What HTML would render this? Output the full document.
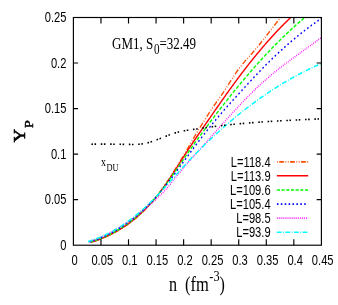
<!DOCTYPE html>
<html><head><meta charset="utf-8"><title>plot</title>
<style>
html,body{margin:0;padding:0;background:#fff;}
body{width:338px;height:305px;overflow:hidden;}
svg{display:block;will-change:transform;}
text{fill:#000;}
.h{font-family:"Liberation Sans",sans-serif;font-size:14.3px;}
.s{font-family:"Liberation Serif",serif;}
</style></head><body>
<svg width="338" height="305" viewBox="0 0 338 305">
<rect x="0" y="0" width="338" height="305" fill="#fff"/>
<defs><clipPath id="c"><rect x="73.4" y="17.5" width="247.99999999999997" height="227.7"/></clipPath></defs>

<g clip-path="url(#c)"><g transform="scale(0.78,1)" fill="none" stroke-width="1.6">
<path d="M117.18,242.27 L118.01,242.04 L118.83,241.81 L119.66,241.57 L120.48,241.34 L121.31,241.10 L122.13,240.86 L122.96,240.62 L123.79,240.37 L124.61,240.13 L125.44,239.88 L126.26,239.63 L127.09,239.38 L127.92,239.12 L128.74,238.86 L129.57,238.60 L130.39,238.34 L131.22,238.07 L132.04,237.80 L132.87,237.53 L133.70,237.26 L134.52,236.98 L135.35,236.70 L136.17,236.41 L137.00,236.12 L137.83,235.83 L138.65,235.54 L139.48,235.24 L140.30,234.93 L141.13,234.62 L141.95,234.31 L142.78,234.00 L143.61,233.68 L144.43,233.35 L145.26,233.03 L146.08,232.69 L146.91,232.36 L147.74,232.01 L148.56,231.67 L149.39,231.32 L150.21,230.96 L151.04,230.60 L151.86,230.23 L152.69,229.86 L153.52,229.49 L154.34,229.10 L155.17,228.72 L155.99,228.32 L156.82,227.93 L157.65,227.52 L158.47,227.11 L159.30,226.70 L160.12,226.28 L160.95,225.85 L161.77,225.42 L162.60,224.98 L163.43,224.53 L164.25,224.08 L165.08,223.62 L165.90,223.15 L166.73,222.68 L167.56,222.20 L168.38,221.72 L169.21,221.23 L170.03,220.73 L170.86,220.22 L171.68,219.71 L172.51,219.19 L173.34,218.66 L174.16,218.12 L174.99,217.58 L175.81,217.03 L176.64,216.47 L177.47,215.91 L178.29,215.33 L179.12,214.75 L179.94,214.16 L180.77,213.56 L181.59,212.96 L182.42,212.34 L183.25,211.72 L184.07,211.09 L184.90,210.45 L185.72,209.80 L186.55,209.15 L187.38,208.48 L188.20,207.81 L189.03,207.12 L189.85,206.43 L190.68,205.73 L191.50,205.02 L192.33,204.30 L193.16,203.57 L193.98,202.83 L194.81,202.08 L195.63,201.32 L196.46,200.55 L197.28,199.78 L198.11,198.99 L198.94,198.19 L199.76,197.38 L200.59,196.57 L201.41,195.74 L202.24,194.90 L203.07,194.06 L203.89,193.20 L204.72,192.34 L205.54,191.46 L206.37,190.58 L207.19,189.69 L208.02,188.79 L208.85,187.89 L209.67,186.97 L210.50,186.05 L211.32,185.12 L212.15,184.19 L212.98,183.24 L213.80,182.29 L214.63,181.34 L215.45,180.37 L216.28,179.40 L217.10,178.43 L217.93,177.44 L218.76,176.46 L219.58,175.46 L220.41,174.46 L221.23,173.46 L222.06,172.45 L222.89,171.43 L223.71,170.41 L224.54,169.39 L225.36,168.36 L226.19,167.33 L227.01,166.29 L227.84,165.25 L228.67,164.20 L229.49,163.15 L230.32,162.09 L231.14,161.04 L231.97,159.97 L232.80,158.90 L233.62,157.83 L234.45,156.75 L235.27,155.67 L236.10,154.58 L236.92,153.49 L237.75,152.39 L238.58,151.28 L239.40,150.18 L240.23,149.06 L241.05,147.94 L241.88,146.82 L242.71,145.70 L243.53,144.57 L244.36,143.44 L245.18,142.31 L246.01,141.18 L246.83,140.05 L247.66,138.93 L248.49,137.81 L249.31,136.70 L250.14,135.59 L250.96,134.49 L251.79,133.40 L252.62,132.32 L253.44,131.25 L254.27,130.19 L255.09,129.14 L255.92,128.10 L256.74,127.07 L257.57,126.04 L258.40,125.01 L259.22,123.99 L260.05,122.96 L260.87,121.93 L261.70,120.91 L262.53,119.88 L263.35,118.86 L264.18,117.83 L265.00,116.82 L265.83,115.80 L266.65,114.79 L267.48,113.79 L268.31,112.79 L269.13,111.80 L269.96,110.82 L270.78,109.84 L271.61,108.88 L272.44,107.92 L273.26,106.98 L274.09,106.04 L274.91,105.11 L275.74,104.19 L276.56,103.27 L277.39,102.36 L278.22,101.45 L279.04,100.54 L279.87,99.63 L280.69,98.73 L281.52,97.82 L282.35,96.91 L283.17,95.99 L284.00,95.07 L284.82,94.14 L285.65,93.21 L286.47,92.27 L287.30,91.32 L288.13,90.36 L288.95,89.38 L289.78,88.40 L290.60,87.40 L291.43,86.40 L292.26,85.39 L293.08,84.37 L293.91,83.35 L294.73,82.33 L295.56,81.31 L296.38,80.29 L297.21,79.27 L298.04,78.25 L298.86,77.24 L299.69,76.24 L300.51,75.25 L301.34,74.26 L302.17,73.29 L302.99,72.33 L303.82,71.39 L304.64,70.46 L305.47,69.55 L306.29,68.66 L307.12,67.79 L307.95,66.95 L308.77,66.12 L309.60,65.31 L310.42,64.52 L311.25,63.74 L312.08,62.98 L312.90,62.23 L313.73,61.49 L314.55,60.75 L315.38,60.03 L316.20,59.31 L317.03,58.60 L317.86,57.89 L318.68,57.18 L319.51,56.47 L320.33,55.76 L321.16,55.05 L321.99,54.33 L322.81,53.60 L323.64,52.87 L324.46,52.13 L325.29,51.38 L326.11,50.63 L326.94,49.87 L327.77,49.11 L328.59,48.34 L329.42,47.56 L330.24,46.78 L331.07,46.00 L331.90,45.21 L332.72,44.41 L333.55,43.61 L334.37,42.81 L335.20,42.00 L336.02,41.19 L336.85,40.38 L337.68,39.57 L338.50,38.75 L339.33,37.93 L340.15,37.10 L340.98,36.28 L341.81,35.45 L342.63,34.62 L343.46,33.79 L344.28,32.96 L345.11,32.13 L345.93,31.30 L346.76,30.47 L347.59,29.63 L348.41,28.80 L349.24,27.97 L350.06,27.14 L350.89,26.31 L351.72,25.48 L352.54,24.66 L353.37,23.83 L354.19,23.01 L355.02,22.19 L355.84,21.37 L356.67,20.55 L357.50,19.74 L358.32,18.93 L359.15,18.12 L359.97,17.32 L360.80,16.52 L361.63,15.73 L362.45,14.94 L363.28,14.15 L364.10,13.37" stroke="#ff4d00" stroke-dasharray="1 2 6 2 1 2"/>
<path d="M116.92,242.13 L117.79,241.92 L118.67,241.71 L119.54,241.49 L120.41,241.27 L121.28,241.05 L122.15,240.82 L123.03,240.58 L123.90,240.35 L124.77,240.10 L125.64,239.86 L126.51,239.61 L127.38,239.35 L128.26,239.09 L129.13,238.83 L130.00,238.56 L130.87,238.29 L131.74,238.01 L132.61,237.73 L133.49,237.44 L134.36,237.15 L135.23,236.85 L136.10,236.55 L136.97,236.24 L137.84,235.93 L138.72,235.61 L139.59,235.29 L140.46,234.96 L141.33,234.63 L142.20,234.29 L143.07,233.95 L143.95,233.60 L144.82,233.24 L145.69,232.88 L146.56,232.52 L147.43,232.15 L148.30,231.77 L149.18,231.39 L150.05,231.00 L150.92,230.61 L151.79,230.21 L152.66,229.80 L153.53,229.39 L154.41,228.97 L155.28,228.55 L156.15,228.12 L157.02,227.68 L157.89,227.24 L158.77,226.79 L159.64,226.34 L160.51,225.88 L161.38,225.41 L162.25,224.94 L163.12,224.46 L164.00,223.97 L164.87,223.48 L165.74,222.98 L166.61,222.47 L167.48,221.96 L168.35,221.44 L169.23,220.91 L170.10,220.38 L170.97,219.84 L171.84,219.29 L172.71,218.73 L173.58,218.17 L174.46,217.60 L175.33,217.02 L176.20,216.43 L177.07,215.84 L177.94,215.24 L178.81,214.63 L179.69,214.02 L180.56,213.39 L181.43,212.76 L182.30,212.12 L183.17,211.47 L184.04,210.81 L184.92,210.15 L185.79,209.47 L186.66,208.79 L187.53,208.10 L188.40,207.40 L189.27,206.69 L190.15,205.97 L191.02,205.24 L191.89,204.51 L192.76,203.76 L193.63,203.01 L194.51,202.24 L195.38,201.47 L196.25,200.69 L197.12,199.89 L197.99,199.09 L198.86,198.28 L199.74,197.46 L200.61,196.63 L201.48,195.79 L202.35,194.94 L203.22,194.07 L204.09,193.20 L204.97,192.32 L205.84,191.43 L206.71,190.53 L207.58,189.61 L208.45,188.69 L209.32,187.75 L210.20,186.81 L211.07,185.85 L211.94,184.89 L212.81,183.92 L213.68,182.93 L214.55,181.94 L215.43,180.94 L216.30,179.94 L217.17,178.93 L218.04,177.91 L218.91,176.88 L219.78,175.85 L220.66,174.81 L221.53,173.77 L222.40,172.72 L223.27,171.67 L224.14,170.62 L225.02,169.56 L225.89,168.50 L226.76,167.43 L227.63,166.36 L228.50,165.30 L229.37,164.23 L230.25,163.16 L231.12,162.08 L231.99,161.01 L232.86,159.94 L233.73,158.87 L234.60,157.80 L235.48,156.73 L236.35,155.67 L237.22,154.60 L238.09,153.54 L238.96,152.48 L239.83,151.43 L240.71,150.37 L241.58,149.33 L242.45,148.28 L243.32,147.25 L244.19,146.21 L245.06,145.19 L245.94,144.16 L246.81,143.15 L247.68,142.13 L248.55,141.12 L249.42,140.12 L250.29,139.11 L251.17,138.11 L252.04,137.12 L252.91,136.12 L253.78,135.13 L254.65,134.14 L255.52,133.15 L256.40,132.17 L257.27,131.18 L258.14,130.20 L259.01,129.22 L259.88,128.24 L260.76,127.26 L261.63,126.28 L262.50,125.29 L263.37,124.31 L264.24,123.33 L265.11,122.35 L265.99,121.37 L266.86,120.39 L267.73,119.40 L268.60,118.42 L269.47,117.44 L270.34,116.46 L271.22,115.47 L272.09,114.49 L272.96,113.51 L273.83,112.53 L274.70,111.55 L275.57,110.57 L276.45,109.59 L277.32,108.61 L278.19,107.63 L279.06,106.65 L279.93,105.68 L280.80,104.70 L281.68,103.73 L282.55,102.75 L283.42,101.78 L284.29,100.81 L285.16,99.85 L286.03,98.88 L286.91,97.92 L287.78,96.95 L288.65,95.99 L289.52,95.03 L290.39,94.08 L291.26,93.12 L292.14,92.17 L293.01,91.22 L293.88,90.27 L294.75,89.33 L295.62,88.39 L296.50,87.45 L297.37,86.51 L298.24,85.58 L299.11,84.64 L299.98,83.72 L300.85,82.79 L301.73,81.87 L302.60,80.95 L303.47,80.03 L304.34,79.11 L305.21,78.20 L306.08,77.29 L306.96,76.39 L307.83,75.48 L308.70,74.58 L309.57,73.68 L310.44,72.79 L311.31,71.90 L312.19,71.01 L313.06,70.12 L313.93,69.24 L314.80,68.36 L315.67,67.48 L316.54,66.61 L317.42,65.74 L318.29,64.87 L319.16,64.01 L320.03,63.14 L320.90,62.29 L321.77,61.43 L322.65,60.58 L323.52,59.73 L324.39,58.88 L325.26,58.04 L326.13,57.20 L327.00,56.37 L327.88,55.53 L328.75,54.70 L329.62,53.88 L330.49,53.05 L331.36,52.23 L332.24,51.42 L333.11,50.61 L333.98,49.80 L334.85,48.99 L335.72,48.19 L336.59,47.39 L337.47,46.59 L338.34,45.80 L339.21,45.01 L340.08,44.22 L340.95,43.44 L341.82,42.66 L342.70,41.89 L343.57,41.12 L344.44,40.35 L345.31,39.58 L346.18,38.82 L347.05,38.07 L347.93,37.31 L348.80,36.56 L349.67,35.82 L350.54,35.08 L351.41,34.34 L352.28,33.60 L353.16,32.87 L354.03,32.14 L354.90,31.42 L355.77,30.70 L356.64,29.98 L357.51,29.27 L358.39,28.56 L359.26,27.86 L360.13,27.16 L361.00,26.46 L361.87,25.77 L362.75,25.08 L363.62,24.39 L364.49,23.71 L365.36,23.03 L366.23,22.36 L367.10,21.69 L367.98,21.02 L368.85,20.36 L369.72,19.71 L370.59,19.05 L371.46,18.40 L372.33,17.76 L373.21,17.12 L374.08,16.48 L374.95,15.85 L375.82,15.22 L376.69,14.60 L377.56,13.98" stroke="#ff0000"/>
<path d="M116.03,241.96 L116.96,241.74 L117.90,241.52 L118.84,241.29 L119.77,241.05 L120.71,240.81 L121.65,240.57 L122.58,240.32 L123.52,240.06 L124.46,239.80 L125.39,239.54 L126.33,239.27 L127.27,238.99 L128.21,238.71 L129.14,238.42 L130.08,238.13 L131.02,237.83 L131.95,237.53 L132.89,237.22 L133.83,236.91 L134.76,236.58 L135.70,236.26 L136.64,235.93 L137.57,235.59 L138.51,235.24 L139.45,234.89 L140.38,234.54 L141.32,234.17 L142.26,233.81 L143.20,233.43 L144.13,233.05 L145.07,232.66 L146.01,232.27 L146.94,231.87 L147.88,231.46 L148.82,231.05 L149.75,230.63 L150.69,230.20 L151.63,229.77 L152.56,229.33 L153.50,228.88 L154.44,228.43 L155.37,227.97 L156.31,227.50 L157.25,227.03 L158.19,226.55 L159.12,226.06 L160.06,225.56 L161.00,225.06 L161.93,224.55 L162.87,224.03 L163.81,223.50 L164.74,222.97 L165.68,222.43 L166.62,221.88 L167.55,221.33 L168.49,220.77 L169.43,220.20 L170.36,219.62 L171.30,219.03 L172.24,218.44 L173.18,217.84 L174.11,217.23 L175.05,216.61 L175.99,215.98 L176.92,215.35 L177.86,214.71 L178.80,214.06 L179.73,213.40 L180.67,212.73 L181.61,212.05 L182.54,211.37 L183.48,210.68 L184.42,209.98 L185.36,209.27 L186.29,208.55 L187.23,207.82 L188.17,207.09 L189.10,206.34 L190.04,205.59 L190.98,204.83 L191.91,204.05 L192.85,203.27 L193.79,202.49 L194.72,201.69 L195.66,200.88 L196.60,200.06 L197.53,199.24 L198.47,198.40 L199.41,197.56 L200.35,196.70 L201.28,195.84 L202.22,194.96 L203.16,194.08 L204.09,193.19 L205.03,192.28 L205.97,191.37 L206.90,190.45 L207.84,189.52 L208.78,188.58 L209.71,187.63 L210.65,186.66 L211.59,185.69 L212.52,184.71 L213.46,183.73 L214.40,182.73 L215.34,181.73 L216.27,180.72 L217.21,179.70 L218.15,178.68 L219.08,177.65 L220.02,176.61 L220.96,175.57 L221.89,174.53 L222.83,173.48 L223.77,172.43 L224.70,171.37 L225.64,170.31 L226.58,169.24 L227.51,168.18 L228.45,167.11 L229.39,166.04 L230.33,164.97 L231.26,163.89 L232.20,162.82 L233.14,161.75 L234.07,160.67 L235.01,159.60 L235.95,158.53 L236.88,157.46 L237.82,156.39 L238.76,155.32 L239.69,154.26 L240.63,153.20 L241.57,152.14 L242.50,151.08 L243.44,150.03 L244.38,148.99 L245.32,147.94 L246.25,146.90 L247.19,145.87 L248.13,144.83 L249.06,143.81 L250.00,142.78 L250.94,141.76 L251.87,140.74 L252.81,139.72 L253.75,138.71 L254.68,137.70 L255.62,136.69 L256.56,135.69 L257.50,134.69 L258.43,133.69 L259.37,132.69 L260.31,131.69 L261.24,130.70 L262.18,129.71 L263.12,128.72 L264.05,127.73 L264.99,126.75 L265.93,125.76 L266.86,124.78 L267.80,123.80 L268.74,122.83 L269.67,121.85 L270.61,120.88 L271.55,119.91 L272.49,118.94 L273.42,117.97 L274.36,117.01 L275.30,116.04 L276.23,115.08 L277.17,114.13 L278.11,113.17 L279.04,112.22 L279.98,111.26 L280.92,110.32 L281.85,109.37 L282.79,108.42 L283.73,107.48 L284.66,106.54 L285.60,105.60 L286.54,104.66 L287.48,103.73 L288.41,102.80 L289.35,101.87 L290.29,100.94 L291.22,100.02 L292.16,99.10 L293.10,98.18 L294.03,97.26 L294.97,96.34 L295.91,95.43 L296.84,94.52 L297.78,93.61 L298.72,92.71 L299.65,91.80 L300.59,90.90 L301.53,90.01 L302.47,89.11 L303.40,88.22 L304.34,87.33 L305.28,86.44 L306.21,85.55 L307.15,84.67 L308.09,83.79 L309.02,82.91 L309.96,82.03 L310.90,81.16 L311.83,80.29 L312.77,79.42 L313.71,78.56 L314.64,77.70 L315.58,76.84 L316.52,75.98 L317.46,75.12 L318.39,74.27 L319.33,73.42 L320.27,72.58 L321.20,71.73 L322.14,70.89 L323.08,70.05 L324.01,69.22 L324.95,68.38 L325.89,67.55 L326.82,66.73 L327.76,65.90 L328.70,65.08 L329.64,64.26 L330.57,63.45 L331.51,62.63 L332.45,61.82 L333.38,61.01 L334.32,60.21 L335.26,59.41 L336.19,58.61 L337.13,57.81 L338.07,57.02 L339.00,56.23 L339.94,55.44 L340.88,54.66 L341.81,53.88 L342.75,53.10 L343.69,52.32 L344.63,51.55 L345.56,50.78 L346.50,50.02 L347.44,49.25 L348.37,48.49 L349.31,47.73 L350.25,46.98 L351.18,46.23 L352.12,45.48 L353.06,44.74 L353.99,44.00 L354.93,43.26 L355.87,42.52 L356.80,41.79 L357.74,41.06 L358.68,40.33 L359.62,39.61 L360.55,38.89 L361.49,38.18 L362.43,37.46 L363.36,36.75 L364.30,36.05 L365.24,35.34 L366.17,34.64 L367.11,33.95 L368.05,33.25 L368.98,32.56 L369.92,31.88 L370.86,31.19 L371.79,30.51 L372.73,29.84 L373.67,29.16 L374.61,28.49 L375.54,27.83 L376.48,27.16 L377.42,26.50 L378.35,25.85 L379.29,25.19 L380.23,24.54 L381.16,23.90 L382.10,23.26 L383.04,22.62 L383.97,21.98 L384.91,21.35 L385.85,20.72 L386.79,20.10 L387.72,19.47 L388.66,18.86 L389.60,18.24 L390.53,17.63 L391.47,17.02 L392.41,16.42 L393.34,15.82 L394.28,15.22 L395.22,14.63 L396.15,14.04" stroke="#00ff00" stroke-dasharray="4 2"/>
<path d="M114.74,241.93 L115.75,241.68 L116.76,241.43 L117.77,241.17 L118.78,240.90 L119.79,240.63 L120.80,240.36 L121.81,240.08 L122.82,239.79 L123.83,239.50 L124.84,239.20 L125.85,238.90 L126.86,238.59 L127.87,238.27 L128.88,237.95 L129.89,237.62 L130.90,237.29 L131.91,236.95 L132.92,236.60 L133.93,236.25 L134.94,235.89 L135.95,235.53 L136.96,235.16 L137.97,234.78 L138.98,234.39 L139.99,234.00 L141.00,233.61 L142.01,233.20 L143.02,232.79 L144.03,232.38 L145.04,231.95 L146.05,231.52 L147.06,231.09 L148.07,230.64 L149.08,230.19 L150.09,229.73 L151.10,229.27 L152.11,228.79 L153.12,228.31 L154.12,227.83 L155.13,227.33 L156.14,226.83 L157.15,226.32 L158.16,225.81 L159.17,225.28 L160.18,224.75 L161.19,224.21 L162.20,223.66 L163.21,223.11 L164.22,222.55 L165.23,221.98 L166.24,221.40 L167.25,220.81 L168.26,220.22 L169.27,219.62 L170.28,219.01 L171.29,218.39 L172.30,217.76 L173.31,217.13 L174.32,216.48 L175.33,215.83 L176.34,215.17 L177.35,214.50 L178.36,213.83 L179.37,213.14 L180.38,212.45 L181.39,211.75 L182.40,211.03 L183.41,210.31 L184.42,209.58 L185.43,208.85 L186.44,208.10 L187.45,207.34 L188.46,206.58 L189.47,205.80 L190.48,205.02 L191.49,204.23 L192.50,203.43 L193.51,202.62 L194.52,201.79 L195.53,200.97 L196.54,200.13 L197.55,199.28 L198.56,198.42 L199.56,197.55 L200.57,196.67 L201.58,195.78 L202.59,194.89 L203.60,193.98 L204.61,193.06 L205.62,192.14 L206.63,191.20 L207.64,190.25 L208.65,189.29 L209.66,188.33 L210.67,187.35 L211.68,186.36 L212.69,185.37 L213.70,184.36 L214.71,183.35 L215.72,182.33 L216.73,181.31 L217.74,180.27 L218.75,179.23 L219.76,178.19 L220.77,177.14 L221.78,176.08 L222.79,175.02 L223.80,173.96 L224.81,172.89 L225.82,171.82 L226.83,170.75 L227.84,169.67 L228.85,168.60 L229.86,167.52 L230.87,166.44 L231.88,165.36 L232.89,164.28 L233.90,163.20 L234.91,162.12 L235.92,161.04 L236.93,159.97 L237.94,158.89 L238.95,157.82 L239.96,156.75 L240.97,155.68 L241.98,154.61 L242.99,153.55 L243.99,152.48 L245.00,151.42 L246.01,150.36 L247.02,149.30 L248.03,148.24 L249.04,147.18 L250.05,146.13 L251.06,145.08 L252.07,144.03 L253.08,142.99 L254.09,141.95 L255.10,140.91 L256.11,139.87 L257.12,138.84 L258.13,137.81 L259.14,136.79 L260.15,135.77 L261.16,134.75 L262.17,133.74 L263.18,132.74 L264.19,131.74 L265.20,130.74 L266.21,129.75 L267.22,128.76 L268.23,127.78 L269.24,126.81 L270.25,125.84 L271.26,124.87 L272.27,123.91 L273.28,122.96 L274.29,122.01 L275.30,121.06 L276.31,120.12 L277.32,119.18 L278.33,118.25 L279.34,117.32 L280.35,116.40 L281.36,115.48 L282.37,114.56 L283.38,113.64 L284.39,112.73 L285.40,111.83 L286.41,110.92 L287.42,110.02 L288.43,109.13 L289.43,108.23 L290.44,107.34 L291.45,106.45 L292.46,105.57 L293.47,104.68 L294.48,103.80 L295.49,102.92 L296.50,102.05 L297.51,101.17 L298.52,100.30 L299.53,99.43 L300.54,98.56 L301.55,97.69 L302.56,96.82 L303.57,95.96 L304.58,95.10 L305.59,94.23 L306.60,93.37 L307.61,92.51 L308.62,91.65 L309.63,90.79 L310.64,89.93 L311.65,89.08 L312.66,88.22 L313.67,87.36 L314.68,86.50 L315.69,85.65 L316.70,84.79 L317.71,83.94 L318.72,83.09 L319.73,82.24 L320.74,81.39 L321.75,80.54 L322.76,79.69 L323.77,78.85 L324.78,78.01 L325.79,77.17 L326.80,76.33 L327.81,75.49 L328.82,74.66 L329.83,73.83 L330.84,73.00 L331.85,72.18 L332.86,71.36 L333.87,70.54 L334.87,69.73 L335.88,68.92 L336.89,68.11 L337.90,67.30 L338.91,66.51 L339.92,65.71 L340.93,64.92 L341.94,64.13 L342.95,63.34 L343.96,62.56 L344.97,61.79 L345.98,61.01 L346.99,60.24 L348.00,59.47 L349.01,58.71 L350.02,57.95 L351.03,57.20 L352.04,56.45 L353.05,55.70 L354.06,54.95 L355.07,54.21 L356.08,53.48 L357.09,52.74 L358.10,52.01 L359.11,51.29 L360.12,50.57 L361.13,49.85 L362.14,49.13 L363.15,48.42 L364.16,47.72 L365.17,47.01 L366.18,46.31 L367.19,45.62 L368.20,44.92 L369.21,44.23 L370.22,43.55 L371.23,42.87 L372.24,42.19 L373.25,41.52 L374.26,40.85 L375.27,40.18 L376.28,39.52 L377.29,38.86 L378.30,38.20 L379.30,37.55 L380.31,36.90 L381.32,36.26 L382.33,35.62 L383.34,34.98 L384.35,34.35 L385.36,33.72 L386.37,33.09 L387.38,32.47 L388.39,31.85 L389.40,31.24 L390.41,30.63 L391.42,30.02 L392.43,29.42 L393.44,28.82 L394.45,28.22 L395.46,27.63 L396.47,27.04 L397.48,26.45 L398.49,25.87 L399.50,25.29 L400.51,24.72 L401.52,24.15 L402.53,23.58 L403.54,23.02 L404.55,22.46 L405.56,21.91 L406.57,21.36 L407.58,20.81 L408.59,20.26 L409.60,19.72 L410.61,19.19 L411.62,18.65 L412.63,18.12 L413.64,17.60 L414.65,17.08 L415.66,16.56 L416.67,16.04" stroke="#0000ff" stroke-dasharray="2 3"/>
<path d="M113.85,241.84 L114.86,241.59 L115.87,241.34 L116.88,241.08 L117.90,240.81 L118.91,240.54 L119.92,240.26 L120.94,239.98 L121.95,239.68 L122.96,239.38 L123.97,239.07 L124.99,238.76 L126.00,238.44 L127.01,238.11 L128.03,237.78 L129.04,237.44 L130.05,237.09 L131.06,236.74 L132.08,236.38 L133.09,236.01 L134.10,235.64 L135.11,235.26 L136.13,234.87 L137.14,234.48 L138.15,234.08 L139.17,233.68 L140.18,233.27 L141.19,232.85 L142.20,232.43 L143.22,232.00 L144.23,231.57 L145.24,231.12 L146.26,230.68 L147.27,230.22 L148.28,229.77 L149.29,229.30 L150.31,228.83 L151.32,228.35 L152.33,227.87 L153.34,227.38 L154.36,226.89 L155.37,226.39 L156.38,225.89 L157.40,225.38 L158.41,224.86 L159.42,224.34 L160.43,223.81 L161.45,223.28 L162.46,222.74 L163.47,222.20 L164.49,221.65 L165.50,221.09 L166.51,220.54 L167.52,219.97 L168.54,219.40 L169.55,218.83 L170.56,218.25 L171.57,217.66 L172.59,217.07 L173.60,216.48 L174.61,215.88 L175.63,215.27 L176.64,214.66 L177.65,214.05 L178.66,213.43 L179.68,212.80 L180.69,212.17 L181.70,211.54 L182.72,210.90 L183.73,210.26 L184.74,209.61 L185.75,208.96 L186.77,208.30 L187.78,207.64 L188.79,206.97 L189.80,206.30 L190.82,205.63 L191.83,204.95 L192.84,204.27 L193.86,203.58 L194.87,202.89 L195.88,202.19 L196.89,201.49 L197.91,200.78 L198.92,200.07 L199.93,199.36 L200.95,198.64 L201.96,197.92 L202.97,197.18 L203.98,196.44 L205.00,195.68 L206.01,194.92 L207.02,194.14 L208.03,193.34 L209.05,192.53 L210.06,191.71 L211.07,190.86 L212.09,190.00 L213.10,189.12 L214.11,188.21 L215.12,187.29 L216.14,186.34 L217.15,185.39 L218.16,184.42 L219.18,183.44 L220.19,182.45 L221.20,181.46 L222.21,180.46 L223.23,179.47 L224.24,178.47 L225.25,177.48 L226.26,176.49 L227.28,175.50 L228.29,174.52 L229.30,173.55 L230.32,172.57 L231.33,171.60 L232.34,170.64 L233.35,169.68 L234.37,168.72 L235.38,167.77 L236.39,166.83 L237.41,165.89 L238.42,164.96 L239.43,164.03 L240.44,163.11 L241.46,162.19 L242.47,161.28 L243.48,160.37 L244.49,159.47 L245.51,158.58 L246.52,157.69 L247.53,156.80 L248.55,155.91 L249.56,155.03 L250.57,154.15 L251.58,153.28 L252.60,152.40 L253.61,151.53 L254.62,150.65 L255.64,149.78 L256.65,148.90 L257.66,148.03 L258.67,147.15 L259.69,146.28 L260.70,145.40 L261.71,144.52 L262.72,143.64 L263.74,142.75 L264.75,141.87 L265.76,140.99 L266.78,140.10 L267.79,139.22 L268.80,138.33 L269.81,137.45 L270.83,136.56 L271.84,135.68 L272.85,134.79 L273.87,133.90 L274.88,133.01 L275.89,132.13 L276.90,131.24 L277.92,130.36 L278.93,129.47 L279.94,128.58 L280.95,127.70 L281.97,126.81 L282.98,125.93 L283.99,125.05 L285.01,124.17 L286.02,123.29 L287.03,122.41 L288.04,121.53 L289.06,120.65 L290.07,119.77 L291.08,118.90 L292.10,118.03 L293.11,117.16 L294.12,116.29 L295.13,115.42 L296.15,114.55 L297.16,113.69 L298.17,112.83 L299.18,111.97 L300.20,111.11 L301.21,110.25 L302.22,109.40 L303.24,108.55 L304.25,107.70 L305.26,106.86 L306.27,106.02 L307.29,105.18 L308.30,104.34 L309.31,103.51 L310.33,102.68 L311.34,101.85 L312.35,101.03 L313.36,100.21 L314.38,99.39 L315.39,98.58 L316.40,97.77 L317.41,96.97 L318.43,96.16 L319.44,95.37 L320.45,94.57 L321.47,93.78 L322.48,93.00 L323.49,92.22 L324.50,91.44 L325.52,90.67 L326.53,89.90 L327.54,89.14 L328.56,88.38 L329.57,87.63 L330.58,86.88 L331.59,86.14 L332.61,85.40 L333.62,84.67 L334.63,83.95 L335.64,83.22 L336.66,82.51 L337.67,81.80 L338.68,81.09 L339.70,80.39 L340.71,79.70 L341.72,79.01 L342.73,78.32 L343.75,77.64 L344.76,76.97 L345.77,76.30 L346.79,75.63 L347.80,74.97 L348.81,74.32 L349.82,73.66 L350.84,73.01 L351.85,72.37 L352.86,71.73 L353.87,71.09 L354.89,70.46 L355.90,69.83 L356.91,69.20 L357.93,68.58 L358.94,67.96 L359.95,67.35 L360.96,66.73 L361.98,66.12 L362.99,65.52 L364.00,64.91 L365.02,64.31 L366.03,63.71 L367.04,63.12 L368.05,62.52 L369.07,61.93 L370.08,61.34 L371.09,60.75 L372.10,60.17 L373.12,59.58 L374.13,59.00 L375.14,58.42 L376.16,57.84 L377.17,57.27 L378.18,56.69 L379.19,56.12 L380.21,55.54 L381.22,54.97 L382.23,54.40 L383.25,53.83 L384.26,53.26 L385.27,52.69 L386.28,52.13 L387.30,51.56 L388.31,50.99 L389.32,50.42 L390.33,49.86 L391.35,49.29 L392.36,48.72 L393.37,48.16 L394.39,47.59 L395.40,47.02 L396.41,46.45 L397.42,45.88 L398.44,45.31 L399.45,44.74 L400.46,44.17 L401.48,43.60 L402.49,43.03 L403.50,42.45 L404.51,41.88 L405.53,41.30 L406.54,40.72 L407.55,40.14 L408.56,39.56 L409.58,38.98 L410.59,38.39 L411.60,37.81 L412.62,37.22 L413.63,36.63 L414.64,36.03 L415.65,35.44 L416.67,34.84" stroke="#ff00ff" stroke-dasharray="1 1.5"/>
<path d="M112.82,241.52 L113.84,241.29 L114.85,241.05 L115.87,240.80 L116.89,240.55 L117.90,240.29 L118.92,240.02 L119.93,239.75 L120.95,239.47 L121.97,239.18 L122.98,238.89 L124.00,238.59 L125.02,238.28 L126.03,237.97 L127.05,237.64 L128.06,237.32 L129.08,236.98 L130.10,236.64 L131.11,236.29 L132.13,235.94 L133.14,235.58 L134.16,235.21 L135.18,234.83 L136.19,234.45 L137.21,234.06 L138.23,233.67 L139.24,233.26 L140.26,232.86 L141.27,232.44 L142.29,232.02 L143.31,231.59 L144.32,231.15 L145.34,230.71 L146.36,230.26 L147.37,229.80 L148.39,229.34 L149.40,228.87 L150.42,228.39 L151.44,227.91 L152.45,227.42 L153.47,226.92 L154.49,226.41 L155.50,225.90 L156.52,225.39 L157.53,224.86 L158.55,224.33 L159.57,223.79 L160.58,223.25 L161.60,222.69 L162.61,222.14 L163.63,221.57 L164.65,221.00 L165.66,220.42 L166.68,219.83 L167.70,219.24 L168.71,218.64 L169.73,218.03 L170.74,217.42 L171.76,216.80 L172.78,216.17 L173.79,215.54 L174.81,214.90 L175.83,214.25 L176.84,213.60 L177.86,212.94 L178.87,212.27 L179.89,211.59 L180.91,210.91 L181.92,210.22 L182.94,209.53 L183.96,208.83 L184.97,208.12 L185.99,207.40 L187.00,206.68 L188.02,205.95 L189.04,205.21 L190.05,204.47 L191.07,203.72 L192.08,202.96 L193.10,202.20 L194.12,201.43 L195.13,200.65 L196.15,199.87 L197.17,199.08 L198.18,198.28 L199.20,197.47 L200.21,196.66 L201.23,195.84 L202.25,195.02 L203.26,194.19 L204.28,193.36 L205.30,192.51 L206.31,191.67 L207.33,190.82 L208.34,189.96 L209.36,189.11 L210.38,188.24 L211.39,187.38 L212.41,186.51 L213.43,185.63 L214.44,184.76 L215.46,183.88 L216.47,183.00 L217.49,182.12 L218.51,181.23 L219.52,180.35 L220.54,179.46 L221.55,178.57 L222.57,177.68 L223.59,176.80 L224.60,175.91 L225.62,175.02 L226.64,174.13 L227.65,173.25 L228.67,172.36 L229.68,171.48 L230.70,170.59 L231.72,169.71 L232.73,168.84 L233.75,167.96 L234.77,167.09 L235.78,166.22 L236.80,165.35 L237.81,164.49 L238.83,163.63 L239.85,162.77 L240.86,161.92 L241.88,161.08 L242.90,160.23 L243.91,159.40 L244.93,158.56 L245.94,157.73 L246.96,156.91 L247.98,156.09 L248.99,155.27 L250.01,154.45 L251.02,153.64 L252.04,152.84 L253.06,152.03 L254.07,151.23 L255.09,150.44 L256.11,149.64 L257.12,148.85 L258.14,148.07 L259.15,147.29 L260.17,146.51 L261.19,145.73 L262.20,144.96 L263.22,144.18 L264.24,143.42 L265.25,142.65 L266.27,141.89 L267.28,141.13 L268.30,140.38 L269.32,139.63 L270.33,138.88 L271.35,138.13 L272.37,137.39 L273.38,136.65 L274.40,135.91 L275.41,135.18 L276.43,134.45 L277.45,133.72 L278.46,133.00 L279.48,132.28 L280.49,131.56 L281.51,130.84 L282.53,130.13 L283.54,129.42 L284.56,128.72 L285.58,128.01 L286.59,127.31 L287.61,126.62 L288.62,125.92 L289.64,125.23 L290.66,124.54 L291.67,123.86 L292.69,123.18 L293.71,122.50 L294.72,121.82 L295.74,121.15 L296.75,120.48 L297.77,119.81 L298.79,119.15 L299.80,118.49 L300.82,117.83 L301.84,117.18 L302.85,116.53 L303.87,115.88 L304.88,115.23 L305.90,114.59 L306.92,113.95 L307.93,113.31 L308.95,112.68 L309.96,112.05 L310.98,111.42 L312.00,110.80 L313.01,110.18 L314.03,109.56 L315.05,108.94 L316.06,108.33 L317.08,107.72 L318.09,107.11 L319.11,106.51 L320.13,105.91 L321.14,105.31 L322.16,104.72 L323.18,104.12 L324.19,103.54 L325.21,102.95 L326.22,102.37 L327.24,101.79 L328.26,101.21 L329.27,100.64 L330.29,100.06 L331.31,99.50 L332.32,98.93 L333.34,98.37 L334.35,97.81 L335.37,97.25 L336.39,96.70 L337.40,96.15 L338.42,95.60 L339.43,95.05 L340.45,94.51 L341.47,93.97 L342.48,93.44 L343.50,92.90 L344.52,92.37 L345.53,91.85 L346.55,91.32 L347.56,90.80 L348.58,90.28 L349.60,89.76 L350.61,89.25 L351.63,88.74 L352.65,88.23 L353.66,87.73 L354.68,87.23 L355.69,86.73 L356.71,86.23 L357.73,85.74 L358.74,85.25 L359.76,84.76 L360.78,84.28 L361.79,83.80 L362.81,83.32 L363.82,82.84 L364.84,82.37 L365.86,81.90 L366.87,81.43 L367.89,80.97 L368.90,80.51 L369.92,80.05 L370.94,79.59 L371.95,79.14 L372.97,78.69 L373.99,78.24 L375.00,77.80 L376.02,77.35 L377.03,76.91 L378.05,76.48 L379.07,76.05 L380.08,75.61 L381.10,75.19 L382.12,74.76 L383.13,74.34 L384.15,73.92 L385.16,73.50 L386.18,73.09 L387.20,72.68 L388.21,72.27 L389.23,71.87 L390.25,71.46 L391.26,71.06 L392.28,70.67 L393.29,70.27 L394.31,69.88 L395.33,69.49 L396.34,69.11 L397.36,68.72 L398.37,68.34 L399.39,67.97 L400.41,67.59 L401.42,67.22 L402.44,66.85 L403.46,66.48 L404.47,66.12 L405.49,65.76 L406.50,65.40 L407.52,65.04 L408.54,64.69 L409.55,64.34 L410.57,63.99 L411.59,63.65 L412.60,63.31 L413.62,62.97 L414.63,62.63 L415.65,62.30 L416.67,61.97" stroke="#00ffff" stroke-dasharray="6 2 1 2"/>
<path d="M117.18,144.21 L118.17,144.19 L119.15,144.17 L120.14,144.16 L121.12,144.14 L122.11,144.13 L123.10,144.12 L124.08,144.11 L125.07,144.10 L126.06,144.09 L127.04,144.09 L128.03,144.08 L129.01,144.08 L130.00,144.08 L130.99,144.08 L131.97,144.08 L132.96,144.08 L133.94,144.09 L134.93,144.09 L135.92,144.10 L136.90,144.10 L137.89,144.11 L138.88,144.12 L139.86,144.13 L140.85,144.14 L141.83,144.15 L142.82,144.16 L143.81,144.17 L144.79,144.18 L145.78,144.19 L146.77,144.21 L147.75,144.22 L148.74,144.23 L149.72,144.24 L150.71,144.26 L151.70,144.27 L152.68,144.28 L153.67,144.29 L154.65,144.31 L155.64,144.32 L156.63,144.33 L157.61,144.34 L158.60,144.35 L159.59,144.37 L160.57,144.38 L161.56,144.39 L162.54,144.39 L163.53,144.40 L164.52,144.41 L165.50,144.42 L166.49,144.42 L167.48,144.43 L168.46,144.43 L169.45,144.43 L170.43,144.43 L171.42,144.43 L172.41,144.42 L173.39,144.40 L174.38,144.38 L175.36,144.35 L176.35,144.32 L177.34,144.27 L178.32,144.22 L179.31,144.16 L180.30,144.08 L181.28,144.00 L182.27,143.90 L183.25,143.79 L184.24,143.67 L185.23,143.53 L186.21,143.38 L187.20,143.22 L188.19,143.04 L189.17,142.85 L190.16,142.65 L191.14,142.44 L192.13,142.22 L193.12,141.98 L194.10,141.74 L195.09,141.49 L196.07,141.23 L197.06,140.97 L198.05,140.70 L199.03,140.42 L200.02,140.13 L201.01,139.84 L201.99,139.55 L202.98,139.25 L203.96,138.95 L204.95,138.64 L205.94,138.34 L206.92,138.03 L207.91,137.72 L208.90,137.41 L209.88,137.10 L210.87,136.79 L211.85,136.49 L212.84,136.18 L213.83,135.88 L214.81,135.58 L215.80,135.29 L216.79,134.99 L217.77,134.71 L218.76,134.43 L219.74,134.15 L220.73,133.89 L221.72,133.63 L222.70,133.37 L223.69,133.13 L224.67,132.90 L225.66,132.67 L226.65,132.46 L227.63,132.25 L228.62,132.05 L229.61,131.87 L230.59,131.69 L231.58,131.52 L232.56,131.35 L233.55,131.20 L234.54,131.04 L235.52,130.90 L236.51,130.76 L237.50,130.63 L238.48,130.50 L239.47,130.37 L240.45,130.25 L241.44,130.14 L242.43,130.02 L243.41,129.91 L244.40,129.80 L245.38,129.69 L246.37,129.58 L247.36,129.48 L248.34,129.37 L249.33,129.27 L250.32,129.16 L251.30,129.05 L252.29,128.94 L253.27,128.83 L254.26,128.72 L255.25,128.60 L256.23,128.49 L257.22,128.37 L258.21,128.26 L259.19,128.15 L260.18,128.03 L261.16,127.92 L262.15,127.81 L263.14,127.70 L264.12,127.59 L265.11,127.48 L266.09,127.38 L267.08,127.27 L268.07,127.17 L269.05,127.06 L270.04,126.96 L271.03,126.86 L272.01,126.76 L273.00,126.66 L273.98,126.56 L274.97,126.46 L275.96,126.36 L276.94,126.27 L277.93,126.17 L278.92,126.08 L279.90,125.99 L280.89,125.89 L281.87,125.80 L282.86,125.71 L283.85,125.62 L284.83,125.53 L285.82,125.45 L286.80,125.36 L287.79,125.27 L288.78,125.19 L289.76,125.10 L290.75,125.02 L291.74,124.94 L292.72,124.85 L293.71,124.77 L294.69,124.69 L295.68,124.61 L296.67,124.54 L297.65,124.46 L298.64,124.38 L299.63,124.30 L300.61,124.23 L301.60,124.15 L302.58,124.08 L303.57,124.01 L304.56,123.93 L305.54,123.86 L306.53,123.79 L307.51,123.72 L308.50,123.65 L309.49,123.58 L310.47,123.51 L311.46,123.45 L312.45,123.38 L313.43,123.31 L314.42,123.25 L315.40,123.18 L316.39,123.12 L317.38,123.06 L318.36,122.99 L319.35,122.93 L320.34,122.87 L321.32,122.81 L322.31,122.75 L323.29,122.69 L324.28,122.63 L325.27,122.57 L326.25,122.51 L327.24,122.45 L328.22,122.40 L329.21,122.34 L330.20,122.28 L331.18,122.23 L332.17,122.17 L333.16,122.12 L334.14,122.06 L335.13,122.01 L336.11,121.96 L337.10,121.91 L338.09,121.85 L339.07,121.80 L340.06,121.75 L341.05,121.70 L342.03,121.65 L343.02,121.60 L344.00,121.55 L344.99,121.50 L345.98,121.46 L346.96,121.41 L347.95,121.36 L348.93,121.31 L349.92,121.27 L350.91,121.22 L351.89,121.17 L352.88,121.13 L353.87,121.08 L354.85,121.04 L355.84,120.99 L356.82,120.95 L357.81,120.91 L358.80,120.86 L359.78,120.82 L360.77,120.78 L361.76,120.73 L362.74,120.69 L363.73,120.65 L364.71,120.61 L365.70,120.57 L366.69,120.53 L367.67,120.49 L368.66,120.45 L369.64,120.40 L370.63,120.36 L371.62,120.32 L372.60,120.29 L373.59,120.25 L374.58,120.21 L375.56,120.17 L376.55,120.13 L377.53,120.09 L378.52,120.05 L379.51,120.01 L380.49,119.97 L381.48,119.94 L382.47,119.90 L383.45,119.86 L384.44,119.82 L385.42,119.79 L386.41,119.75 L387.40,119.71 L388.38,119.67 L389.37,119.64 L390.36,119.60 L391.34,119.56 L392.33,119.53 L393.31,119.49 L394.30,119.45 L395.29,119.42 L396.27,119.38 L397.26,119.34 L398.24,119.31 L399.23,119.27 L400.22,119.23 L401.20,119.20 L402.19,119.16 L403.18,119.13 L404.16,119.09 L405.15,119.05 L406.13,119.02 L407.12,118.98 L408.11,118.94 L409.09,118.91 L410.08,118.87 L411.07,118.83 L412.05,118.80" stroke="#000" stroke-dasharray="2 2 2 6"/>
</g></g>
<g stroke="#000" stroke-width="1.15" fill="none">
<rect x="73.4" y="17.5" width="247.99999999999997" height="227.7"/>
<path d="M100.96,245.2 v-5.9 M100.96,17.5 v5.9"/>
<path d="M128.51,245.2 v-5.9 M128.51,17.5 v5.9"/>
<path d="M156.07,245.2 v-5.9 M156.07,17.5 v5.9"/>
<path d="M183.62,245.2 v-5.9 M183.62,17.5 v5.9"/>
<path d="M211.18,245.2 v-5.9 M211.18,17.5 v5.9"/>
<path d="M238.73,245.2 v-5.9 M238.73,17.5 v5.9"/>
<path d="M266.29,245.2 v-5.9 M266.29,17.5 v5.9"/>
<path d="M293.84,245.2 v-5.9 M293.84,17.5 v5.9"/>
<path d="M73.4,199.66 h4.72 M321.4,199.66 h-4.72"/>
<path d="M73.4,154.12 h4.72 M321.4,154.12 h-4.72"/>
<path d="M73.4,108.58 h4.72 M321.4,108.58 h-4.72"/>
<path d="M73.4,63.04 h4.72 M321.4,63.04 h-4.72"/>
</g>
<text class="h" transform="translate(66.40,249.80) scale(0.78,1)" text-anchor="end">0</text>
<text class="h" transform="translate(66.40,204.26) scale(0.78,1)" text-anchor="end">0.05</text>
<text class="h" transform="translate(66.40,158.72) scale(0.78,1)" text-anchor="end">0.1</text>
<text class="h" transform="translate(66.40,113.18) scale(0.78,1)" text-anchor="end">0.15</text>
<text class="h" transform="translate(66.40,67.64) scale(0.78,1)" text-anchor="end">0.2</text>
<text class="h" transform="translate(66.40,22.10) scale(0.78,1)" text-anchor="end">0.25</text>
<text class="h" transform="translate(74.70,264.90) scale(0.78,1)" text-anchor="middle">0</text>
<text class="h" transform="translate(102.26,264.90) scale(0.78,1)" text-anchor="middle">0.05</text>
<text class="h" transform="translate(129.81,264.90) scale(0.78,1)" text-anchor="middle">0.1</text>
<text class="h" transform="translate(157.37,264.90) scale(0.78,1)" text-anchor="middle">0.15</text>
<text class="h" transform="translate(184.92,264.90) scale(0.78,1)" text-anchor="middle">0.2</text>
<text class="h" transform="translate(212.48,264.90) scale(0.78,1)" text-anchor="middle">0.25</text>
<text class="h" transform="translate(240.03,264.90) scale(0.78,1)" text-anchor="middle">0.3</text>
<text class="h" transform="translate(267.59,264.90) scale(0.78,1)" text-anchor="middle">0.35</text>
<text class="h" transform="translate(295.14,264.90) scale(0.78,1)" text-anchor="middle">0.4</text>
<text class="h" transform="translate(322.70,264.90) scale(0.78,1)" text-anchor="middle">0.45</text>
<text class="h" transform="translate(270.60,166.70) scale(0.78,1)" text-anchor="end">L=118.4</text>
<path transform="scale(0.78,1)" d="M355.00,161.9 H395.13" stroke="#ff4d00" stroke-width="1.6" fill="none" stroke-dasharray="1 2 6 2 1 2"/>
<text class="h" transform="translate(270.60,180.60) scale(0.78,1)" text-anchor="end">L=113.9</text>
<path transform="scale(0.78,1)" d="M355.00,175.8 H395.13" stroke="#ff0000" stroke-width="1.6" fill="none"/>
<text class="h" transform="translate(270.60,194.80) scale(0.78,1)" text-anchor="end">L=109.6</text>
<path transform="scale(0.78,1)" d="M355.00,190.0 H395.13" stroke="#00ff00" stroke-width="1.6" fill="none" stroke-dasharray="4 2"/>
<text class="h" transform="translate(270.60,208.90) scale(0.78,1)" text-anchor="end">L=105.4</text>
<path transform="scale(0.78,1)" d="M355.00,204.1 H395.13" stroke="#0000ff" stroke-width="1.6" fill="none" stroke-dasharray="2 3"/>
<text class="h" transform="translate(270.60,222.90) scale(0.78,1)" text-anchor="end">L=98.5</text>
<path transform="scale(0.78,1)" d="M355.00,218.1 H395.13" stroke="#ff00ff" stroke-width="1.6" fill="none" stroke-dasharray="1 1.5"/>
<text class="h" transform="translate(270.60,237.00) scale(0.78,1)" text-anchor="end">L=93.9</text>
<path transform="scale(0.78,1)" d="M355.00,232.2 H395.13" stroke="#00ffff" stroke-width="1.6" fill="none" stroke-dasharray="6 2 1 2"/>
<text class="s" transform="translate(112.00,49.20) scale(0.74,1)" font-size="17.6">GM1, S</text>
<text class="s" transform="translate(153.90,54.00) scale(0.74,1)" font-size="15">0</text>
<text class="s" transform="translate(159.40,49.20) scale(0.74,1)" font-size="17.6">=32.49</text>
<text class="s" transform="translate(101.00,166.40) scale(0.75,1)" font-size="13.2">x</text>
<text class="s" transform="translate(106.40,170.90) scale(0.75,1)" font-size="11.2">DU</text>
<text class="s" transform="translate(169.00,290.60) scale(0.785,1)" font-size="20.5">n</text>
<text class="s" transform="translate(185.10,290.60) scale(0.805,1)" font-size="20.5">(fm</text>
<text class="s" transform="translate(209.30,280.70) scale(0.85,1)" font-size="14.5">-3</text>
<text class="s" transform="translate(219.60,290.60) scale(0.785,1)" font-size="20.5">)</text>
<text class="s" transform="translate(25.2,142.5) rotate(-90) scale(1.12,1)" font-size="17.0" stroke="#000" stroke-width="0.55">Y</text>
<text class="s" transform="translate(33.2,128.1) rotate(-90) scale(1.1,1)" font-size="12.6" stroke="#000" stroke-width="0.45">P</text>
</svg></body></html>
